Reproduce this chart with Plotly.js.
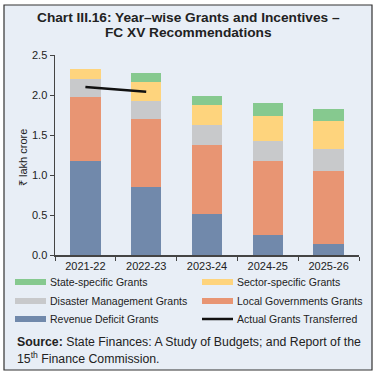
<!DOCTYPE html>
<html><head><meta charset="utf-8">
<script src="https://cdn.plot.ly/plotly-3.0.1.min.js"></script>
<style>html,body{margin:0;padding:0;background:#fff}</style>
</head><body><div id="chart" style="width:377px;height:379px"></div>
<script>
const years = ['2021-22','2022-23','2023-24','2024-25','2025-26'];
const revenueDeficit = [1.175, 0.85, 0.51, 0.25, 0.14];
const localGovts = [0.805, 0.85, 0.865, 0.92, 0.91];
const disasterMgmt = [0.22, 0.23, 0.25, 0.25, 0.27];
const sectorSpecific = [0.13, 0.23, 0.25, 0.32, 0.36];
const stateSpecific = [0, 0.115, 0.115, 0.16, 0.15];
const actualYears = ['2021-22','2022-23'];
const actualGrants = [2.10, 2.04];

const colors = {state:'#86c98f', sector:'#fed47d', disaster:'#c8c9cb', local:'#e89573', revenue:'#7189ab'};
const font = 'Arial, "Liberation Sans", sans-serif';

function bar(name, y, c){ return {type:'bar', name:name, x:years, y:y, marker:{color:c, line:{width:0}}, width:0.5, showlegend:false, hoverinfo:'y'}; }
const data = [
  bar('Revenue Deficit Grants', revenueDeficit, colors.revenue),
  bar('Local Governments Grants', localGovts, colors.local),
  bar('Disaster Management Grants', disasterMgmt, colors.disaster),
  bar('Sector-specific Grants', sectorSpecific, colors.sector),
  bar('State-specific Grants', stateSpecific, colors.state),
  {type:'scatter', mode:'lines', name:'Actual Grants Transferred', x:actualYears, y:actualGrants, line:{color:'#111', width:2.5}, showlegend:false}
];

// pixel -> paper helpers (plot area x 55..359, y 55..255)
const L=55, R=359, T=55, B=255;
const px = v => (v-L)/(R-L);
const py = v => (B-v)/(B-T);

const shapes = [
  {type:'rect', xref:'paper', yref:'paper', x0:px(4), x1:px(372), y0:py(370), y1:py(5), fillcolor:'#e8eef6', line:{color:'#333', width:1.2}, layer:'below'}
];
const annotations = [
  {xref:'paper', yref:'paper', x:px(188), y:py(17), text:'<b>Chart III.16: Year–wise Grants and Incentives –</b>', showarrow:false, font:{family:font, size:13.7, color:'#222'}, xanchor:'center', yanchor:'middle'},
  {xref:'paper', yref:'paper', x:px(188), y:py(33), text:'<b>FC XV Recommendations</b>', showarrow:false, font:{family:font, size:13.7, color:'#222'}, xanchor:'center', yanchor:'middle'},
  {xref:'paper', yref:'paper', x:px(23), y:py(158), text:'₹ lakh crore', textangle:-90, showarrow:false, font:{family:font, size:11, color:'#222'}, xanchor:'center', yanchor:'middle'},
  {xref:'paper', yref:'paper', x:px(15), y:py(342), text:'<b>Source:</b> State Finances: A Study of Budgets; and Report of the', showarrow:false, font:{family:font, size:12.3, color:'#222'}, xanchor:'left', yanchor:'middle'},
  {xref:'paper', yref:'paper', x:px(15), y:py(358), text:'15<sup>th</sup> Finance Commission.', showarrow:false, font:{family:font, size:12.3, color:'#222'}, xanchor:'left', yanchor:'middle'}
];
const legendItems = [
  ['State-specific Grants', colors.state, 15, 282, 'rect'],
  ['Sector-specific Grants', colors.sector, 202, 282, 'rect'],
  ['Disaster Management Grants', colors.disaster, 15, 301, 'rect'],
  ['Local Governments Grants', colors.local, 202, 301, 'rect'],
  ['Revenue Deficit Grants', colors.revenue, 15, 319, 'rect'],
  ['Actual Grants Transferred', '#111', 202, 319, 'line']
];
legendItems.forEach(([t,c,x,y,k])=>{
  if(k==='rect') shapes.push({type:'rect', xref:'paper', yref:'paper', x0:px(x), x1:px(x+31), y0:py(y+3), y1:py(y-3), fillcolor:c, line:{width:0}});
  else shapes.push({type:'line', xref:'paper', yref:'paper', x0:px(x), x1:px(x+31), y0:py(y), y1:py(y), line:{color:c, width:2.5}});
  annotations.push({xref:'paper', yref:'paper', x:px(x+33), y:py(y), text:t, showarrow:false, font:{family:font, size:10.5, color:'#222'}, xanchor:'left', yanchor:'middle'});
});

const layout = {
  width:377, height:379,
  margin:{l:L, r:377-R, t:T, b:379-B},
  paper_bgcolor:'#ffffff', plot_bgcolor:'rgba(0,0,0,0)',
  barmode:'stack', showlegend:false,
  font:{family:font, size:11, color:'#222'},
  xaxis:{type:'category', tickson:'boundaries', ticks:'outside', ticklen:4, tickcolor:'#444', showline:true, linecolor:'#444', linewidth:1.5, showgrid:false, tickfont:{size:11, color:'#222'}, fixedrange:true},
  yaxis:{range:[0,2.5], dtick:0.5, tickformat:'.1f', ticks:'outside', ticklen:4, tickcolor:'#444', showline:true, linecolor:'#444', linewidth:1.5, showgrid:false, zeroline:false, tickfont:{size:11, color:'#222'}, fixedrange:true},
  shapes:shapes, annotations:annotations
};
Plotly.newPlot('chart', data, layout, {displayModeBar:false, staticPlot:true});
</script></body></html>
